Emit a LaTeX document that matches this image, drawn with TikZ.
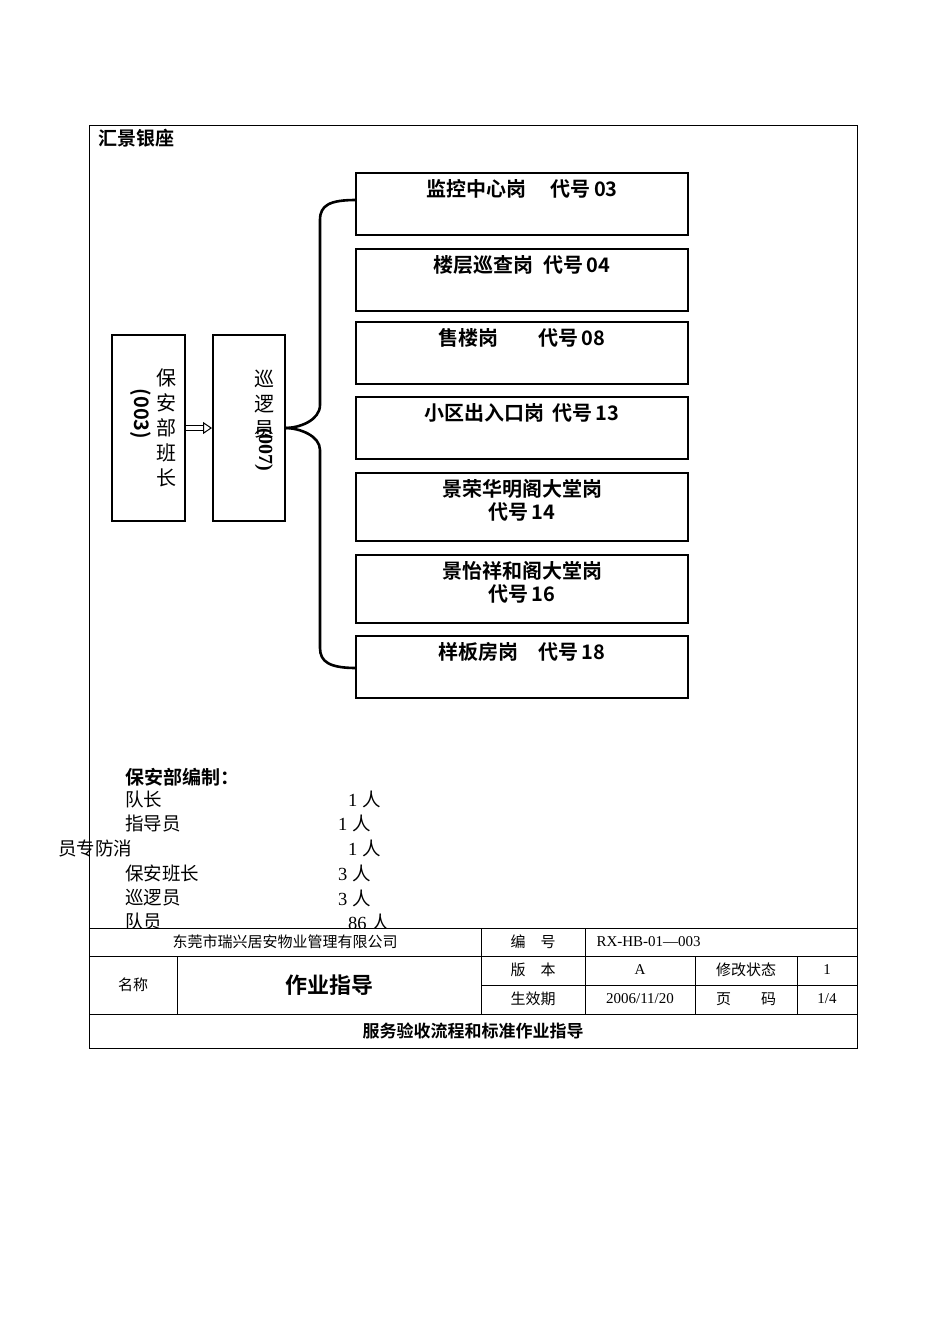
\documentclass[tikz,border=0pt]{standalone}
\usetikzlibrary{arrows.meta}
\usepackage{fontspec}
\setmainfont{Liberation Serif}
\newfontfamily\cjk{Noto Sans CJK SC}
\newfontfamily\cjkb{Noto Sans CJK SC Bold}
\begin{document}
\begin{tikzpicture}[x=1pt,y=-1pt,
 box/.style={draw,line width=2.6pt},
 bt/.style={font=\fontsize{20}{23}\selectfont\cjkb,align=center},
 tt/.style={font=\fontsize{15}{17}\selectfont\cjk},
 st/.style={font=\fontsize{18.5}{20}\selectfont\cjk,anchor=west,inner sep=0}]
\useasboundingbox (0,0) rectangle (950,1344);
\draw[line width=0.7pt] (89,125) rectangle (857,1048);
\node[anchor=west,font=\fontsize{19}{21}\selectfont\cjkb,inner sep=0] (title) at (98,138) {汇景银座};
% left boxes
\draw[box] (112,335) rectangle (185,521);
\node[bt,inner sep=0,font=\fontsize{20}{25}\selectfont\cjk] (b1a) at (166,428) {保\\安\\部\\班\\长};
\node[bt,rotate=-90,inner sep=0] (b1b) at (141,414) {(003)};
\draw[box] (213,335) rectangle (285,521);
\node[bt,inner sep=0,anchor=north,font=\fontsize{20}{25}\selectfont\cjk] (b2a) at (264,370) {巡\\逻\\员};
\node[bt,rotate=-90,inner sep=0,anchor=west] (b2b) at (264,428) {\fontspec{Liberation Serif}\bfseries (007)};
\coordinate (a1) at (186,428); \coordinate (a2) at (212,428);
\draw[double,double distance=3.5pt,line width=1pt,-{Triangle[open,length=9pt,width=12pt,line width=1pt]}] (a1) -- (a2);
% right boxes
\foreach \n/\ya/\yb/\t in {r1/173/235/{监控中心岗\quad\ 代号\,03},r2/249/311/{楼层巡查岗\enspace 代号\,04},r3/322/384/{售楼岗\qquad 代号\,08},r4/397/459/{小区出入口岗\, 代号\,13},r5/473/541/{景荣华明阁大堂岗\\代号\,14},r6/555/623/{景怡祥和阁大堂岗\\代号\,16},r7/636/698/{样板房岗\quad 代号\,18}}{
 \draw[box] (356,\ya) rectangle (688,\yb);
 \node[bt,anchor=north,inner sep=0] (\n) at (522,\ya+6) {\t};
}
% brace
\coordinate (c0) at (285,428);
\draw[line width=2.6pt] (356,200) .. controls (330,200) and (320,205) .. (320,220) -- (320,405) .. controls (320,420) and (300,428) .. (c0);
\draw[line width=2.6pt] (356,668) .. controls (330,668) and (320,662) .. (320,648) -- (320,450) .. controls (320,436) and (300,428) .. (c0);
% staff list
\node[st,font=\fontsize{19}{20}\selectfont\cjkb] (s0) at (125,777) {保安部编制：};
\node[st] (s1) at (125,799) {队长};
\node[st] (s2) at (125,823) {指导员};
\node[st] (s3) at (58,848) {员专防消};
\node[st] (s4) at (125,873) {保安班长};
\node[st] (s5) at (125,898) {巡逻员};
\node[st] (s6) at (125,922) {队员};
\foreach \n/\x/\y/\t in {n1/348/799/1,n2/338/823/1,n3/348/848/1,n4/338/873/3,n5/338/898/3,n6/348/922/86}
 \node[st] (\n) at (\x,\y) {\fontspec{Liberation Serif}\t\ \cjk 人};
% table
\fill[white] (90,929) rectangle (856,1047);
\draw[line width=0.7pt] (89,928) -- (857,928) (89,956) -- (857,956) (481,985) -- (857,985) (89,1014) -- (857,1014)
 (177,956) -- (177,1014) (481,928) -- (481,1014) (585,928) -- (585,1014) (695,956) -- (695,1014) (797,956) -- (797,1014);
\draw[line width=0.7pt] (89,928) -- (89,1048) (857,928) -- (857,1048);
\node[tt] (t1) at (285,942) {东莞市瑞兴居安物业管理有限公司};
\node[tt] (t2) at (533,942) {编\quad 号};
\node[tt,anchor=west] (t3) at (593,942) {\fontspec{Liberation Serif}RX-HB-01—003};
\node[tt] (t4) at (133,985) {名称};
\node[font=\fontsize{22}{24}\selectfont\cjkb] (t5) at (329,985) {作业指导};
\node[tt] (t6) at (533,970) {版\quad 本};
\node[tt] (t7) at (640,970) {\fontspec{Liberation Serif}A};
\node[tt] (t8) at (746,970) {修改状态};
\node[tt] (t9) at (827,970) {\fontspec{Liberation Serif}1};
\node[tt] (t10) at (533,999) {生效期};
\node[tt] (t11) at (640,999) {\fontspec{Liberation Serif}2006/11/20};
\node[tt] (t12) at (746,999) {页\qquad 码};
\node[tt] (t13) at (827,999) {\fontspec{Liberation Serif}1/4};
\node[font=\fontsize{17}{19}\selectfont\cjkb] (t14) at (473,1031) {服务验收流程和标准作业指导};
\end{tikzpicture}
\end{document}
